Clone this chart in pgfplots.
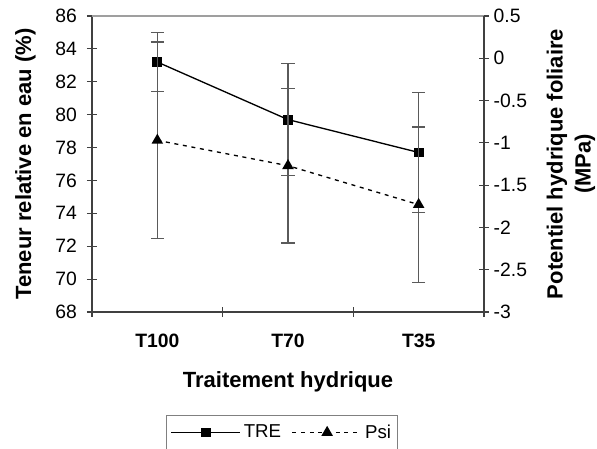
\documentclass[border=0pt]{standalone}
\usepackage{fontspec}
\setmainfont{Liberation Sans}
\usepackage{pgfplots}
\pgfplotsset{compat=1.18}

\definecolor{axisgray}{HTML}{404040}
\definecolor{bargray}{HTML}{5A5A5A}
\newcommand{\legfont}{\fontsize{14}{16}\selectfont}

\pgfplotsset{
  common/.style={
    scale only axis, width=294pt, height=222pt,
    xmin=-0.5, xmax=2.5,
    tick align=center, major tick length=7.5pt,
    every tick/.style={axisgray, line width=0.8pt},
    axis line style={axisgray, line width=0.8pt},
    tick label style={font=\fontsize{14.5}{17}\selectfont},
    /pgf/number format/assume math mode=true,
    label style={font=\bfseries\fontsize{16.5}{18}\selectfont},
  },
  ebars/.style={
    error bars/.cd, y dir=both, y explicit,
    error mark=-,
    error bar style={bargray, line width=1.2pt, solid},
    error mark options={rotate=90, bargray, line width=1.2pt, mark size=4.9pt, solid},
  },
  trestyle/.style={black, line width=1pt, mark=square*, mark size=3.2pt, mark options={solid}},
  psistyle/.style={black, line width=1pt, dash pattern=on 3pt off 3.5pt, mark=triangle*, mark size=4pt, mark options={solid}},
}

\begin{document}
\begin{tikzpicture}
\begin{axis}[
  common,
  ymin=68, ymax=86,
  ytick={68,70,72,74,76,78,80,82,84,86},
  xtick={-0.5,0.5,1.5,2.5},
  xticklabels={T100,T70,T35},
  x tick label as interval,
  axis x line*=bottom, axis y line*=left,
  y tick label style={xshift=-4pt},
  x tick label style={font=\bfseries\fontsize{14.5}{17}\selectfont, yshift=-9pt},
  xlabel={Traitement hydrique},
  ylabel={Teneur relative en eau (\%)},
  xlabel style={at={(axis description cs:0.5,-0.236)}, anchor=center},
  ylabel style={at={(axis description cs:-0.17,0.5)}, anchor=center},
]
\addplot[trestyle, ebars] coordinates {
  (0,83.2) +- (0,1.8)
  (1,79.7) +- (0,3.4)
  (2,77.7) +- (0,3.65)
};
\end{axis}

\begin{axis}[
  common,
  ymin=-3, ymax=0.5,
  ytick={-3,-2.5,-2,-1.5,-1,-0.5,0,0.5},
  yticklabels={-3,-2.5,-2,-1.5,-1,-0.5,0,0.5},
  xtick=\empty,
  axis x line*=top, axis y line*=right,
  x axis line style={gray!75, line width=0.8pt},
  ylabel={Potentiel hydrique foliaire\\[3pt](MPa)},
  ylabel style={at={(axis description cs:1.222,0.5)}, anchor=center, align=center},
  legend columns=2,
  legend style={at={(axis description cs:0.485,-0.348)}, anchor=north,
    draw=gray, line width=0.6pt, inner xsep=3pt, inner ysep=5pt,
    /tikz/every even column/.append style={column sep=6pt}},
  legend image code/.code={
    \draw[mark repeat=2, mark phase=2, #1] plot coordinates {(0pt,0pt) (26pt,0pt) (52pt,0pt)};
  },
]
\addlegendimage{trestyle}
\addlegendentry{\legfont TRE}
\addplot[psistyle, ebars] coordinates {
  (0,-0.97) +- (0,1.16)
  (1,-1.27) +- (0,0.915)
  (2,-1.73) +- (0,0.92)
};
\addlegendentry{\legfont Psi}
\end{axis}
\pgfresetboundingbox
\useasboundingbox (-69pt,-102.75pt) rectangle (378.75pt,234pt);
\end{tikzpicture}
\end{document}
